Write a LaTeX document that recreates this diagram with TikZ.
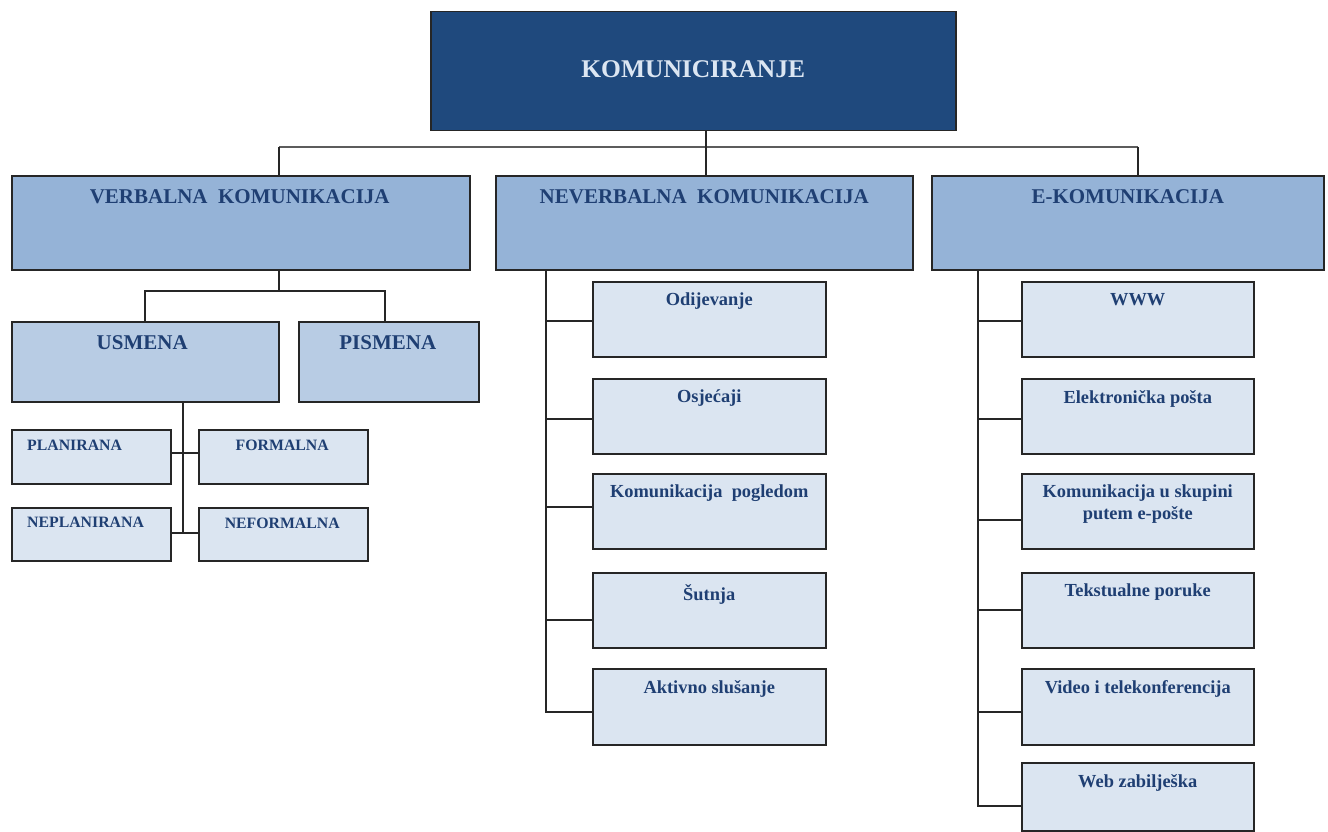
\documentclass[tikz,border=0pt]{standalone}
\usepackage{fontspec}
\setmainfont{Liberation Serif}
\definecolor{topfill}{HTML}{1F497D}
\definecolor{midfill}{HTML}{95B3D7}
\definecolor{subfill}{HTML}{B8CCE4}
\definecolor{leaffill}{HTML}{DBE5F1}
\definecolor{txtblue}{HTML}{1F3F73}
\definecolor{toptxt}{HTML}{DCE6F2}
\definecolor{edge}{HTML}{262626}
\tikzset{
  box/.style={draw=edge, line width=1.5pt, anchor=north west, inner sep=0pt},
  topbox/.style={box, fill=topfill},
  midbox/.style={box, fill=midfill},
  subbox/.style={box, fill=subfill},
  leafbox/.style={box, fill=leaffill},
  lbl/.style={text=txtblue, font=\bfseries, anchor=north, inner sep=0pt, align=center},
  conn/.style={draw=edge, line width=1.5pt},
  bus/.style={draw=edge!75, line width=2pt}
}
\begin{document}
\begin{tikzpicture}[x=1pt,y=-1pt]
\useasboundingbox (0,0) rectangle (1328,832);
% top
\node[topbox, minimum width=525pt, minimum height=119pt] (top) at (430,11) {};
\node[text=toptxt, font=\bfseries\fontsize{25.5}{28}\selectfont, inner sep=0pt] (toptext) at ([yshift=2pt]top.center) {KOMUNICIRANJE};
% level 2
\node[midbox, minimum width=458pt, minimum height=94pt] (verb) at (11,175) {};
\node[midbox, minimum width=417pt, minimum height=94pt] (nev) at (495,175) {};
\node[midbox, minimum width=392pt, minimum height=94pt] (ekom) at (931,175) {};
\node[lbl, font=\bfseries\fontsize{21}{24}\selectfont] (verbt) at ([xshift=-1pt,yshift=-14pt]verb.north) {VERBALNA\ \ KOMUNIKACIJA};
\node[lbl, font=\bfseries\fontsize{21}{24}\selectfont] (nevt) at ([yshift=-14pt]nev.north) {NEVERBALNA\ \ KOMUNIKACIJA};
\node[lbl, font=\bfseries\fontsize{21}{24}\selectfont] (ekomt) at ([yshift=-14pt]ekom.north) {E-KOMUNIKACIJA};
% verbal subtree
\node[subbox, minimum width=267pt, minimum height=80pt] (usm) at (11,321) {};
\node[subbox, minimum width=180pt, minimum height=80pt] (pis) at (298,321) {};
\node[lbl, font=\bfseries\fontsize{21}{24}\selectfont] (usmt) at ([xshift=-3pt,yshift=-14pt]usm.north) {USMENA};
\node[lbl, font=\bfseries\fontsize{21}{24}\selectfont] (pist) at ([xshift=-1pt,yshift=-14pt]pis.north) {PISMENA};
\node[leafbox, minimum width=159pt, minimum height=54pt] (plan) at (11,429) {};
\node[leafbox, minimum width=169pt, minimum height=54pt] (form) at (198,429) {};
\node[leafbox, minimum width=159pt, minimum height=53pt] (neplan) at (11,507) {};
\node[leafbox, minimum width=169pt, minimum height=53pt] (neform) at (198,507) {};
\node[lbl, anchor=north west, font=\bfseries\fontsize{15.8}{18}\selectfont] (plant) at (27,440) {PLANIRANA};
\node[lbl, font=\bfseries\fontsize{15.8}{18}\selectfont] (formt) at ([xshift=-1pt,yshift=-11pt]form.north) {FORMALNA};
\node[lbl, anchor=north west, font=\bfseries\fontsize{15.8}{18}\selectfont] (neplant) at (27,517) {NEPLANIRANA};
\node[lbl, font=\bfseries\fontsize{15.8}{18}\selectfont] (neformt) at ([xshift=-1pt,yshift=-11pt]neform.north) {NEFORMALNA};
% neverbal subtree
\node[leafbox, minimum width=233pt, minimum height=75pt] (odj) at (592,281) {};
\node[leafbox, minimum width=233pt, minimum height=75pt] (osj) at (592,378) {};
\node[leafbox, minimum width=233pt, minimum height=75pt] (pog) at (592,473) {};
\node[leafbox, minimum width=233pt, minimum height=75pt] (sut) at (592,572) {};
\node[leafbox, minimum width=233pt, minimum height=76pt] (akt) at (592,668) {};
\foreach \b/\t in {odj/Odijevanje, osj/Osjećaji, pog/Komunikacija\ \ pogledom, sut/Šutnja, akt/Aktivno slušanje}{
  \node[lbl, font=\bfseries\fontsize{18.4}{22}\selectfont] (\b t) at ([yshift=-12pt]\b.north) {\t};
}
% e-kom subtree
\node[leafbox, minimum width=232pt, minimum height=75pt] (www) at (1021,281) {};
\node[leafbox, minimum width=232pt, minimum height=75pt] (ele) at (1021,378) {};
\node[leafbox, minimum width=232pt, minimum height=75pt] (sku) at (1021,473) {};
\node[leafbox, minimum width=232pt, minimum height=75pt] (tek) at (1021,572) {};
\node[leafbox, minimum width=232pt, minimum height=76pt] (vid) at (1021,668) {};
\node[leafbox, minimum width=232pt, minimum height=68pt] (web) at (1021,762) {};
\foreach \b/\t in {www/WWW, ele/Elektronička pošta, sku/{Komunikacija u skupini\\putem e-pošte}, tek/Tekstualne poruke, vid/Video i telekonferencija, web/Web zabilješka}{
  \node[lbl, font=\bfseries\fontsize{18.4}{22}\selectfont] (\b t) at ([yshift=-12pt]\b.north) {\t};
}
% connectors top
\coordinate (b1) at (279,147);
\coordinate (b2) at (1138,147);
\coordinate (b0) at (706,147);
\draw[bus] (b1) -- (b2);
\draw[conn] (top.south -| b0) -- (nev.north -| b0);
\draw[conn] (b1) -- (verb.north -| b1);
\draw[conn] (b2) -- (ekom.north -| b2);
% verbal connectors
\coordinate (v0) at (279,291);
\coordinate (v1) at (145,291);
\coordinate (v2) at (385,291);
\draw[conn] (verb.south -| v0) -- (v0);
\draw[conn] (usm.north -| v1) -- (v1) -- (v2) -- (pis.north -| v2);
\coordinate (u0) at (183,533);
\coordinate (u1) at (183,453);
\draw[conn] (usm.south -| u0) -- (u0);
\draw[conn] (plan.east |- u1) -- (form.west |- u1);
\draw[conn] (neplan.east |- u0) -- (neform.west |- u0);
% neverbal connectors
\coordinate (n0) at (546,712);
\draw[conn] (nev.south -| n0) -- (n0) -- (akt.west |- n0);
\foreach \b/\y in {odj/321, osj/419, pog/507, sut/620}{
  \draw[conn] (546,\y) -- (\b.west |- 0,\y);
}
% e-kom connectors
\coordinate (e0) at (978,806);
\draw[conn] (ekom.south -| e0) -- (e0) -- (web.west |- e0);
\foreach \b/\y in {www/321, ele/419, sku/520, tek/610, vid/712}{
  \draw[conn] (978,\y) -- (\b.west |- 0,\y);
}
\end{tikzpicture}
\end{document}
